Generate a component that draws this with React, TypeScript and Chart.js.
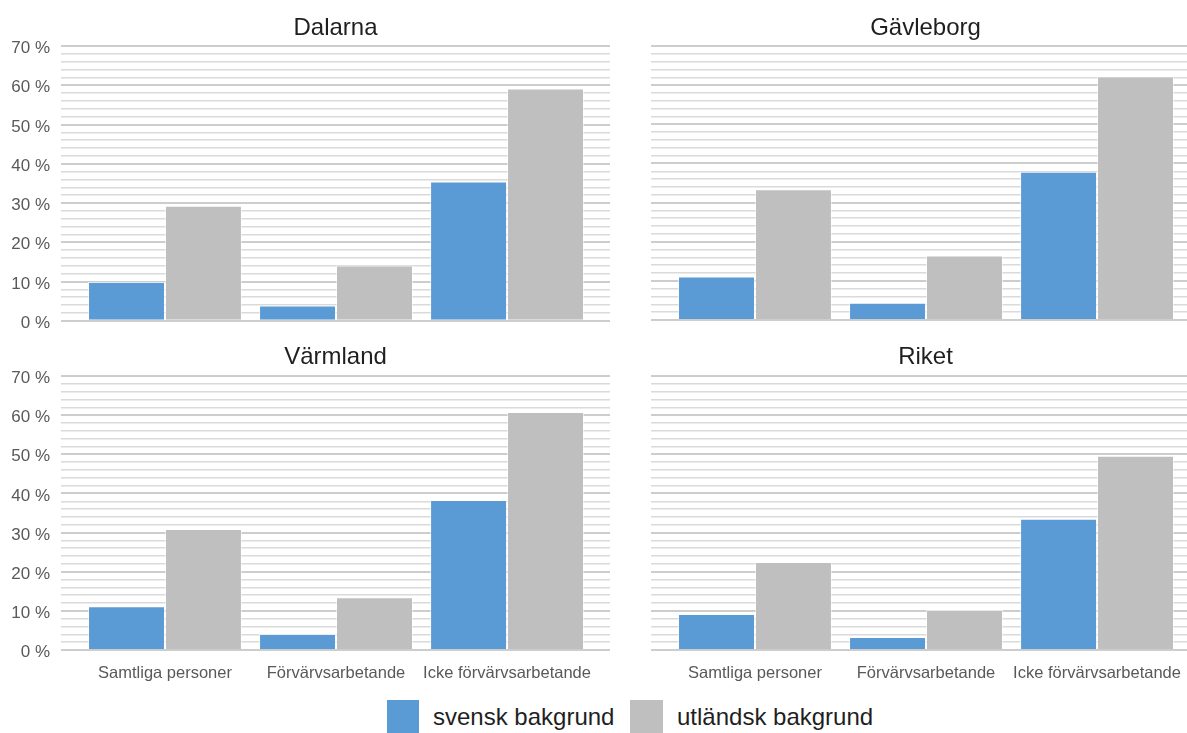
import React, { useEffect, useRef } from 'react';
import { Chart, registerables } from 'chart.js';

Chart.register(...registerables);

// ---- data ----
const categories = ['Samtliga personer', 'Förvärvsarbetande', 'Icke förvärvsarbetande'];
const seriesNames = ['svensk bakgrund', 'utländsk bakgrund'];
const regionTitles = ['Dalarna', 'Gävleborg', 'Värmland', 'Riket'];

const dalarnaSvensk = [9.9, 3.9, 35.5];
const dalarnaUtlandsk = [29.3, 14.1, 59.2];
const gavleborgSvensk = [11.1, 4.4, 37.9];
const gavleborgUtlandsk = [33.4, 16.5, 62.2];
const varmlandSvensk = [11.2, 4.1, 38.3];
const varmlandUtlandsk = [30.9, 13.5, 60.8];
const riketSvensk = [9.2, 3.3, 33.5];
const riketUtlandsk = [22.5, 10.2, 49.6];

const yMin = 0;
const yMax = 70;
const yMinorStep = 2;
const yMajorStep = 10;

// ---- styles ----
const BLUE = '#5B9BD5';
const GRAY = '#BFBFBF';
const FONT = "'Liberation Sans', Arial, sans-serif";
const X_MIN = -0.608;
const X_MAX = 2.602;

type PanelProps = {
  title: string;
  svensk: number[];
  utlandsk: number[];
  showY: boolean;
  showX: boolean;
  left: number;
  top: number;
  width: number;
  height: number;
  xHeight: number;
  titlePad: { top: number; bottom: number };
};

function Panel(p: PanelProps) {
  const ref = useRef<HTMLCanvasElement>(null);
  useEffect(() => {
    const chart = new Chart(ref.current as HTMLCanvasElement, {
      type: 'bar',
      data: {
        datasets: [
          {
            label: seriesNames[0],
            data: p.svensk.map((y, i) => ({ x: i, y })),
            backgroundColor: BLUE,
            borderColor: 'rgba(255,255,255,0.55)',
            borderWidth: 1,
            categoryPercentage: 0.9,
            barPercentage: 1,
          },
          {
            label: seriesNames[1],
            data: p.utlandsk.map((y, i) => ({ x: i, y })),
            backgroundColor: GRAY,
            borderColor: 'rgba(255,255,255,0.55)',
            borderWidth: 1,
            categoryPercentage: 0.9,
            barPercentage: 1,
          },
        ],
      } as any,
      options: {
        animation: false,
        responsive: true,
        maintainAspectRatio: false,
        layout: { padding: { left: 0, right: 0, top: 0, bottom: p.showX ? 0 : 10 } },
        plugins: {
          legend: { display: false },
          tooltip: { enabled: false },
          title: {
            display: true,
            text: p.title,
            fullSize: false,
            color: '#1f1f1f',
            font: { family: FONT, size: 24, weight: 'normal' },
            padding: p.titlePad,
          },
        },
        scales: {
          x: {
            type: 'linear',
            min: X_MIN,
            max: X_MAX,
            offset: false,
            grid: { display: false, offset: false },
            border: { display: false },
            ticks: {
              display: p.showX,
              autoSkip: false,
              maxRotation: 0,
              minRotation: 0,
              padding: 6,
              color: '#595959',
              font: { family: FONT, size: 16.5 },
              callback: (v: any) => categories[v as number] ?? '',
            },
            afterBuildTicks: (s: any) => {
              s.ticks = categories.map((_, i) => ({ value: i }));
            },
            afterFit: (s: any) => {
              s.height = p.xHeight;
            },
          },
          y: {
            min: yMin,
            max: yMax,
            border: { display: false },
            grid: {
              drawTicks: false,
              color: (ctx: any) => (ctx.tick && ctx.tick.value % yMajorStep === 0 ? '#cdcdcd' : '#dadada'),
              lineWidth: (ctx: any) => (ctx.tick && ctx.tick.value % yMajorStep === 0 ? 2 : 1.5),
            },
            ticks: {
              display: p.showY,
              stepSize: yMinorStep,
              autoSkip: false,
              padding: 11,
              labelOffset: 2.5,
              color: '#595959',
              font: { family: FONT, size: 17 },
              callback: (v: any) => (Number(v) % yMajorStep === 0 ? `${v} %` : ''),
            },
            afterFit: (s: any) => {
              s.width = p.showY ? 61 : 0;
            },
          },
        } as any,
      },
    } as any);
    return () => chart.destroy();
  }, []);
  return (
    <div style={{ position: 'absolute', left: p.left, top: p.top, width: p.width, height: p.height }}>
      <canvas ref={ref} />
    </div>
  );
}

export default function App() {
  const topPad = { top: 14.2, bottom: 3.0 };
  const botPad = { top: 17.0, bottom: 4.2 };
  return (
    <div
      style={{
        position: 'fixed',
        left: 0,
        top: 0,
        width: 1187,
        height: 733,
        overflow: 'hidden',
        background: '#ffffff',
        fontFamily: FONT,
      }}
    >
      <Panel title={regionTitles[0]} svensk={dalarnaSvensk} utlandsk={dalarnaUtlandsk} showY showX={false}
        left={0} top={0} width={610} height={342} xHeight={0} titlePad={topPad} />
      <Panel title={regionTitles[1]} svensk={gavleborgSvensk} utlandsk={gavleborgUtlandsk} showY={false} showX={false}
        left={651} top={0} width={549} height={330} xHeight={0} titlePad={topPad} />
      <Panel title={regionTitles[2]} svensk={varmlandSvensk} utlandsk={varmlandUtlandsk} showY showX
        left={0} top={326} width={610} height={370} xHeight={46} titlePad={botPad} />
      <Panel title={regionTitles[3]} svensk={riketSvensk} utlandsk={riketUtlandsk} showY={false} showX
        left={651} top={326} width={549} height={370} xHeight={46} titlePad={botPad} />

      <div style={{ position: 'absolute', left: 387, top: 700, width: 32, height: 34, background: BLUE }} />
      <div style={{ position: 'absolute', left: 433, top: 703, fontSize: 24, color: '#1f1f1f', whiteSpace: 'nowrap' }}>
        {seriesNames[0]}
      </div>
      <div style={{ position: 'absolute', left: 630, top: 700, width: 33, height: 34, background: GRAY }} />
      <div style={{ position: 'absolute', left: 677, top: 703, fontSize: 24, color: '#1f1f1f', whiteSpace: 'nowrap' }}>
        {seriesNames[1]}
      </div>
    </div>
  );
}
